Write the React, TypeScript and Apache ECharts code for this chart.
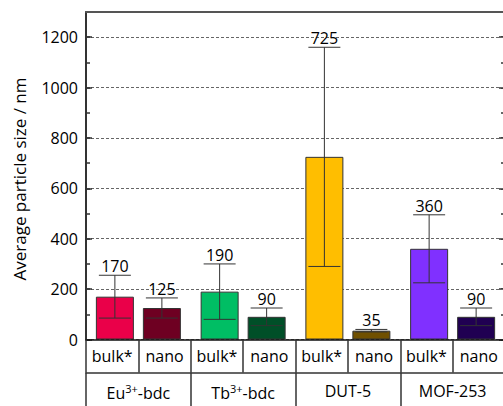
import React, { useEffect, useRef } from "react";
import * as echarts from "echarts";

const groups = ["Eu3+-bdc", "Tb3+-bdc", "DUT-5", "MOF-253"];
const sizeLabels = ["bulk*", "nano", "bulk*", "nano", "bulk*", "nano", "bulk*", "nano"];
const bulkValues = [170, 190, 725, 360];
const nanoValues = [125, 90, 35, 90];
const bulkErrors = [85, 110, 435, 135];
const nanoErrors = [40, 35, 5, 35];
const bulkColors = ["#EA0049", "#00BE64", "#FFBE00", "#8030FF"];
const nanoColors = ["#6E0022", "#004F28", "#705000", "#200052"];
const yTicks = { min: 0, max: 1300, major: 200, minor: 100 };

const FONT = "Open Sans";
const BAR_W = 38;
const BAR_GAP = 9;

export default function App() {
  const ref = useRef<HTMLDivElement>(null);
  useEffect(() => {
    document.body.style.margin = "0";
    const chart = echarts.init(ref.current!, null, { renderer: "svg" });
    const errData: any[] = [];
    groups.forEach((_, i) => {
      errData.push([i, bulkValues[i], bulkErrors[i], -1]);
      errData.push([i, nanoValues[i], nanoErrors[i], 1]);
    });
    const tickStyle = { color: "#333", width: 1.5 };
    const option: any = {
      animation: false,
      textStyle: { fontFamily: FONT },
      grid: { left: 86, right: 5, top: 12, bottom: 66.5, containLabel: false },
      xAxis: [
        {
          type: "category",
          data: sizeLabels,
          position: "bottom",
          axisLine: { show: true, onZero: false, lineStyle: { color: "#111", width: 1.5 } },
          axisTick: { show: true, interval: 0, alignWithLabel: false, inside: false, length: 33, lineStyle: tickStyle },
          axisLabel: { interval: 0, fontSize: 16, color: "#000", margin: 8, fontFamily: FONT },
          splitLine: { show: false },
          z: 5,
        },
        {
          type: "category",
          data: groups,
          position: "bottom",
          offset: 33,
          axisLine: { show: true, onZero: false, lineStyle: { color: "#333", width: 1.5 } },
          axisTick: { show: true, interval: 0, alignWithLabel: false, inside: false, length: 35, lineStyle: tickStyle },
          axisLabel: {
            interval: 0,
            fontSize: 16,
            color: "#000",
            margin: 10,
            fontFamily: FONT,
            formatter: (v: string) => v.replace(/(\d\+)/, "{sup|$1}"),
            rich: {
              sup: { fontSize: 11, fontFamily: FONT, color: "#000", verticalAlign: "bottom", padding: [0, 0, 10, 0] },
            },
          },
          splitLine: { show: false },
          z: 5,
        },
        {
          type: "category",
          data: groups,
          position: "top",
          axisLine: { show: true, onZero: false, lineStyle: { color: "#555", width: 2 } },
          axisTick: { show: false },
          axisLabel: { show: false },
          splitLine: { show: false },
          z: 6,
        },
      ],
      yAxis: [
        {
          type: "value",
          position: "left",
          min: yTicks.min,
          max: yTicks.max,
          interval: yTicks.major,
          axisLine: { show: true, lineStyle: { color: "#333", width: 2 } },
          axisTick: { show: true, inside: true, length: 6, lineStyle: tickStyle },
          axisLabel: {
            fontSize: 16,
            color: "#000",
            margin: 8,
            showMaxLabel: false,
            fontFamily: FONT,
            formatter: (v: number) => String(v),
          },
          splitLine: { show: true, lineStyle: { color: "#666", width: 1, type: [3, 2] } },
          z: 1,
        },
        {
          type: "value",
          position: "left",
          min: yTicks.min,
          max: yTicks.max,
          interval: yTicks.minor,
          axisLine: { show: false },
          axisTick: { show: true, inside: true, length: 4, lineStyle: tickStyle },
          axisLabel: { show: false },
          splitLine: { show: false },
        },
        {
          type: "value",
          position: "right",
          min: yTicks.min,
          max: yTicks.max,
          interval: yTicks.major,
          axisLine: { show: true, lineStyle: { color: "#333", width: 2 } },
          axisTick: { show: true, inside: true, length: 6, lineStyle: tickStyle },
          axisLabel: { show: false },
          splitLine: { show: false },
        },
        {
          type: "value",
          position: "right",
          min: yTicks.min,
          max: yTicks.max,
          interval: yTicks.minor,
          axisLine: { show: false },
          axisTick: { show: true, inside: true, length: 4, lineStyle: tickStyle },
          axisLabel: { show: false },
          splitLine: { show: false },
        },
      ],
      graphic: [
        {
          type: "text",
          x: 19,
          y: 179,
          rotation: Math.PI / 2,
          style: {
            text: "Average particle size / nm",
            fontSize: 17,
            fontFamily: FONT,
            fill: "#000",
            align: "center",
            verticalAlign: "middle",
          },
        },
      ],
      series: [
        {
          type: "bar",
          xAxisIndex: 1,
          yAxisIndex: 0,
          barWidth: BAR_W,
          barGap: `${(BAR_GAP / BAR_W) * 100}%`,
          data: bulkValues.map((v, i) => ({ value: v, itemStyle: { color: bulkColors[i] } })),
          itemStyle: { borderColor: "#333", borderWidth: 1 },
          z: 2,
        },
        {
          type: "bar",
          xAxisIndex: 1,
          yAxisIndex: 0,
          barWidth: BAR_W,
          data: nanoValues.map((v, i) => ({ value: v, itemStyle: { color: nanoColors[i] } })),
          itemStyle: { borderColor: "#333", borderWidth: 1 },
          z: 2,
        },
        {
          type: "custom",
          xAxisIndex: 1,
          yAxisIndex: 0,
          clip: false,
          z: 4,
          data: errData,
          encode: { x: 0, y: 1 },
          renderItem: (params: any, api: any) => {
            const idx = api.value(0);
            const val = api.value(1);
            const err = api.value(2);
            const side = api.value(3);
            const hi = api.coord([idx, val + err]);
            const lo = api.coord([idx, val - err]);
            const x = hi[0] + (side * (BAR_W + BAR_GAP)) / 2;
            const cap = 16;
            const ls = { stroke: "#333", lineWidth: 1 };
            return {
              type: "group",
              children: [
                { type: "line", shape: { x1: x, y1: hi[1], x2: x, y2: lo[1] }, style: ls },
                { type: "line", shape: { x1: x - cap, y1: hi[1], x2: x + cap, y2: hi[1] }, style: ls },
                { type: "line", shape: { x1: x - cap, y1: lo[1], x2: x + cap, y2: lo[1] }, style: ls },
                {
                  type: "text",
                  x: x,
                  y: hi[1] - 1,
                  style: {
                    text: String(val),
                    fontSize: 16,
                    fontFamily: FONT,
                    fill: "#000",
                    align: "center",
                    verticalAlign: "bottom",
                  },
                },
              ],
            };
          },
        },
      ],
    };
    chart.setOption(option);
    return () => chart.dispose();
  }, []);
  return (
    <div style={{ width: 503, height: 406, overflow: "hidden", position: "relative" }}>
      <div ref={ref} style={{ width: 510, height: 406 }} />
    </div>
  );
}
